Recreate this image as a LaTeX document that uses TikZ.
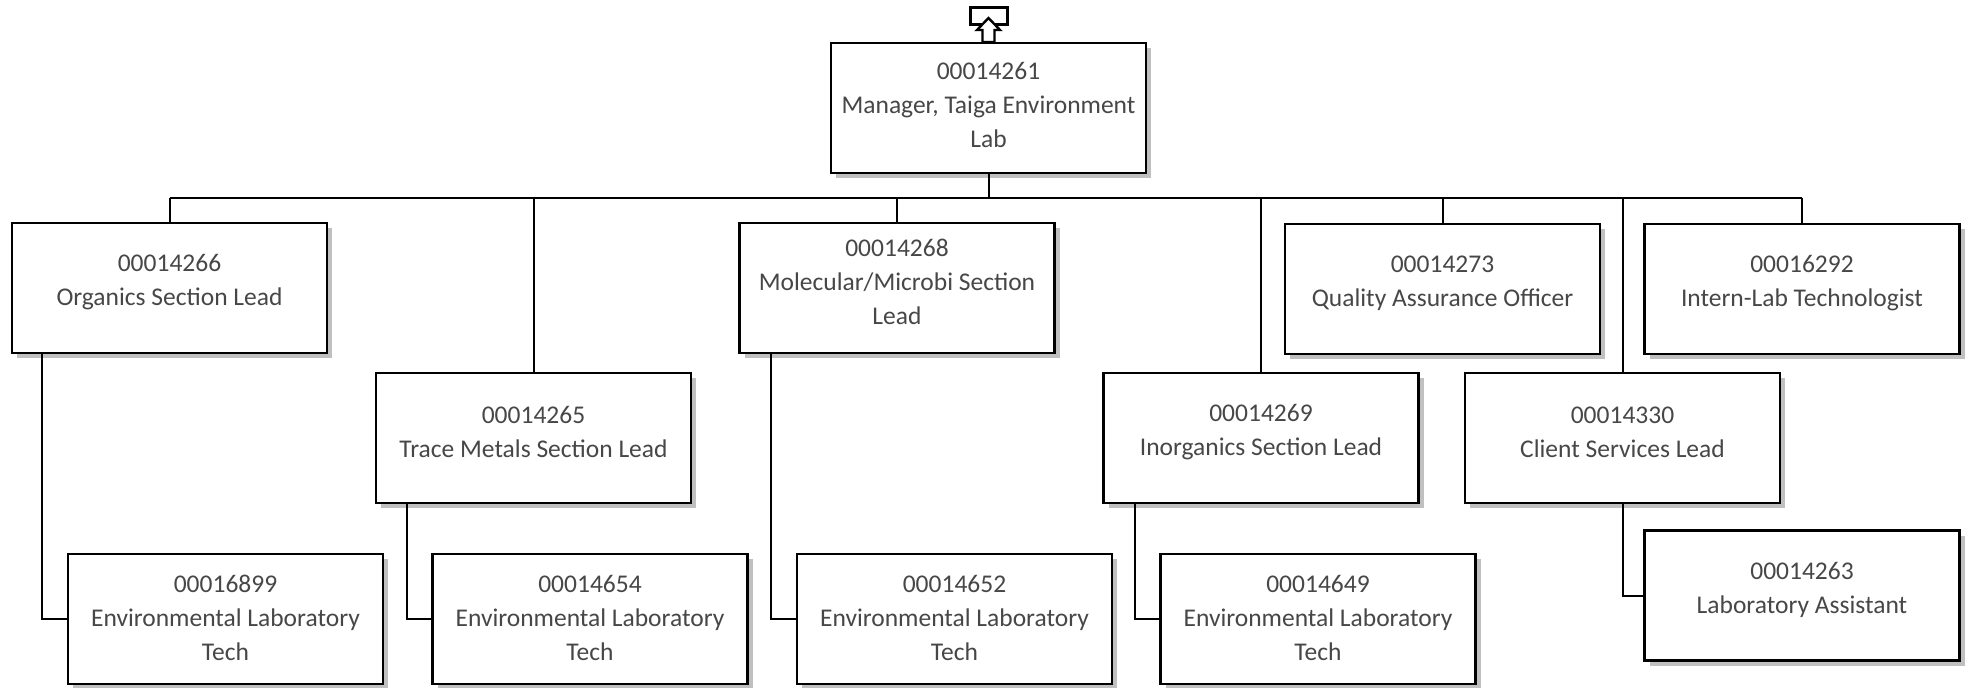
\documentclass[tikz,border=0pt]{standalone}
\usepackage{fontspec}
\setmainfont{Carlito}
\usetikzlibrary{shadows,calc}
\definecolor{txt}{HTML}{474747}
\definecolor{shd}{HTML}{C0C0C0}
\begin{document}
\begin{tikzpicture}[x=1pt,y=-1pt,
  box/.style={draw=black, line width=2.4pt, fill=white, rectangle,
    minimum width=315pt, minimum height=130pt, inner sep=0pt,
    drop shadow={shadow xshift=5pt, shadow yshift=-5pt, fill=shd, opacity=1}},
  conn/.style={draw=black, line width=2pt},
  lbl/.style={text=txt, font=\fontsize{25.5}{34}\selectfont, align=center, inner sep=0pt}
]
\useasboundingbox (0,0) rectangle (1971,688);

% boxes
\node[box] (top) at (988.5,108) {};
\node[lbl] (toplbl) at ($(top.center)+(0,-3)$) {00014261\\Manager, Taiga Environment\\Lab};

\node[box] (org) at (169.5,288) {};
\node[lbl] (orglbl) at ($(org.center)+(0,-6)$) {00014266\\Organics Section Lead};

\node[box] (trace) at (533.5,438) {};
\node[lbl] (tracelbl) at ($(trace.center)+(0,-6)$) {00014265\\Trace Metals Section Lead};

\node[box] (mol) at (897,288) {};
\node[lbl] (mollbl) at ($(mol.center)+(0,-6)$) {00014268\\Molecular/Microbi Section\\Lead};

\node[box] (inorg) at (1261,438) {};
\node[lbl] (inorglbl) at ($(inorg.center)+(0,-6)$) {00014269\\Inorganics Section Lead};

\node[box] (qa) at (1442.5,289) {};
\node[lbl] (qalbl) at ($(qa.center)+(0,-6)$) {00014273\\Quality Assurance Officer};

\node[box] (cs) at (1622.5,438) {};
\node[lbl] (cslbl) at ($(cs.center)+(0,-6)$) {00014330\\Client Services Lead};

\node[box] (intern) at (1802,289) {};
\node[lbl] (internlbl) at ($(intern.center)+(0,-6)$) {00016292\\Intern-Lab Technologist};

\node[box] (env1) at (225.5,619) {};
\node[lbl] (env1lbl) at ($(env1.center)+(0,-1)$) {00016899\\Environmental Laboratory\\Tech};

\node[box] (env2) at (590,619) {};
\node[lbl] (env2lbl) at ($(env2.center)+(0,-1)$) {00014654\\Environmental Laboratory\\Tech};

\node[box] (env3) at (954.5,619) {};
\node[lbl] (env3lbl) at ($(env3.center)+(0,-1)$) {00014652\\Environmental Laboratory\\Tech};

\node[box] (env4) at (1318,619) {};
\node[lbl] (env4lbl) at ($(env4.center)+(0,-1)$) {00014649\\Environmental Laboratory\\Tech};

\node[box] (asst) at (1802,595.5) {};
\node[lbl] (asstlbl) at ($(asst.center)+(0,-6)$) {00014263\\Laboratory Assistant};

% bus
\coordinate (bus) at (0,198);
\draw[conn] (org.north |- bus) -- (intern.north |- bus);
\draw[conn] (top.south) -- (top.south |- bus);
\foreach \n in {org,trace,mol,inorg,qa,cs,intern}
  \draw[conn] (\n.north |- bus) -- (\n.north);

% sub connectors
\draw[conn] ($(org.south west)+(31,0)$) |- (env1.west);
\draw[conn] ($(trace.south west)+(32,0)$) |- (env2.west);
\draw[conn] ($(mol.south west)+(33,0)$) |- (env3.west);
\draw[conn] ($(inorg.south west)+(33,0)$) |- (env4.west);
\draw[conn] (cs.south) |- (asst.west);

% top icon
\draw[line width=3pt] (970,7.5) rectangle (1007,24);
\draw[line width=2.4pt, fill=white, line join=miter]
  (982.5,42) -- (982.5,30) -- (977,30) -- (988.5,18) -- (1000,30) -- (994.5,30) -- (994.5,42) -- cycle;
\end{tikzpicture}
\end{document}
